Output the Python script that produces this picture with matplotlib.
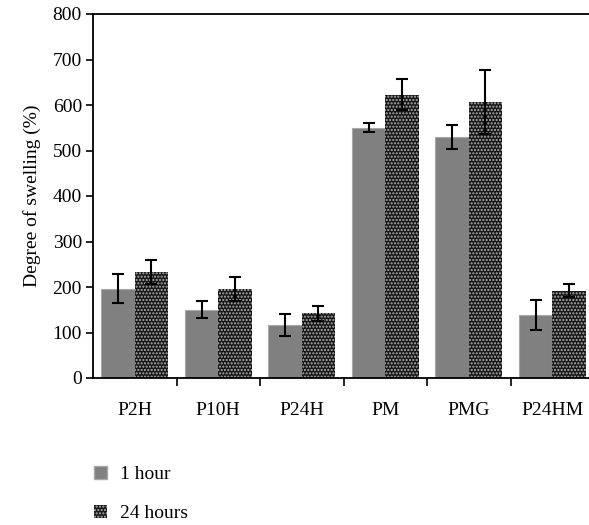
import numpy as np
import matplotlib
matplotlib.use("Agg")
import matplotlib.pyplot as plt
from matplotlib.patches import Patch

plt.rcParams['font.family'] = ['Liberation Serif', 'DejaVu Serif']
plt.rcParams['hatch.linewidth'] = 1.0

# 数据
groups = ["P2H", "P10H", "P24H", "PM", "PMG", "P24HM"]
h1 = [196, 150, 116, 550, 530, 138]
h1_err = [32, 19, 24, 10, 26, 33]
h24 = [233, 196, 142, 623, 607, 192]
h24_err = [26, 27, 17, 35, 70, 15]
yticks = [0, 100, 200, 300, 400, 500, 600, 700, 800]

FS = 14
fig = plt.figure(figsize=(5.89, 5.25), dpi=100)
ax = fig.add_axes([93/589, 147/525, 496/589, 364/525])
x = np.arange(len(groups)); w = 0.4
ax.bar(x - w/2, h1, w, color="#808080", edgecolor="#a8a8a8", lw=0.8, zorder=2)
ax.bar(x + w/2, h24, w, color="#181818", edgecolor="#b0b0b0", hatch=".....", lw=0.0, zorder=2)
ax.errorbar(x - w/2, h1, yerr=h1_err, fmt="none", ecolor="black", elinewidth=1.5, capsize=4, capthick=1.5, zorder=3)
ax.errorbar(x + w/2, h24, yerr=h24_err, fmt="none", ecolor="black", elinewidth=1.5, capsize=4, capthick=1.5, zorder=3)

ax.set_ylim(0, 800); ax.set_xlim(-0.5, 5.44)
ax.set_yticks(yticks); ax.tick_params(axis="y", direction="out", length=5, width=1.2, labelsize=FS, pad=3)
ax.set_xticks(x, groups); ax.tick_params(axis="x", length=0, labelsize=FS, pad=17)
ax.set_xticks(np.arange(0.5, 5.0, 1.0), minor=True)
ax.tick_params(axis="x", which="minor", direction="out", length=6, width=1.2)
ax.spines["right"].set_visible(False)
for s in ["left", "bottom", "top"]: ax.spines[s].set_linewidth(1.3)
ax.set_ylabel("Degree of swelling (%)", fontsize=FS, labelpad=8)

leg = [Patch(facecolor="#808080", edgecolor="#a8a8a8", label="1 hour"),
       Patch(facecolor="#181818", edgecolor="#b0b0b0", hatch=".....", lw=0, label="24 hours")]
fig.legend(handles=leg, loc="upper left", bbox_to_anchor=(76/589, 1 - 448/525), frameon=False,
           fontsize=FS, handlelength=0.7, handleheight=0.7, handletextpad=0.65, labelspacing=1.1)
plt.savefig("out.png", dpi=100, facecolor="white")
